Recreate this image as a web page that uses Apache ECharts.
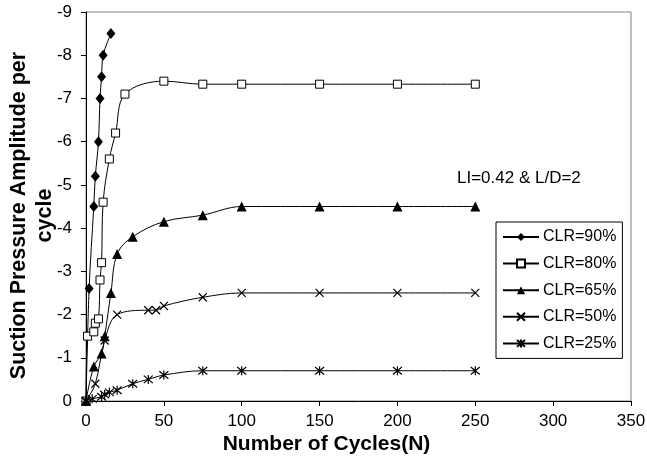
<!DOCTYPE html>
<html>
<head>
<meta charset="utf-8">
<script src="https://cdn.jsdelivr.net/npm/echarts@6/dist/echarts.min.js"></script>
<style>
html,body{margin:0;padding:0;background:#fff;}
#chart{width:647px;height:461px;}
</style>
</head>
<body>
<div id="chart"></div>
<script>
// ---- data ----
const seriesNames = ['CLR=90%', 'CLR=80%', 'CLR=65%', 'CLR=50%', 'CLR=25%'];

const clr90X = [0, 2, 5, 6, 8, 9, 10, 11, 16];
const clr90Y = [0, -2.6, -4.5, -5.2, -6.0, -7.0, -7.5, -8.0, -8.5];

const clr80X = [0, 1, 5, 6, 8, 9, 10, 11, 15, 19, 25, 50, 75, 100, 150, 200, 250];
const clr80Y = [0, -1.5, -1.6, -1.8, -1.9, -2.8, -3.2, -4.6, -5.6, -6.2, -7.1, -7.4, -7.33, -7.33, -7.33, -7.33, -7.33];

const clr65X = [0, 5, 10, 12, 16, 20, 30, 50, 75, 100, 150, 200, 250];
const clr65Y = [0, -0.8, -1.1, -1.5, -2.5, -3.4, -3.8, -4.15, -4.3, -4.5, -4.5, -4.5, -4.5];

const clr50X = [0, 6, 12, 20, 40, 45, 50, 75, 100, 150, 200, 250];
const clr50Y = [0, -0.4, -1.4, -2.0, -2.1, -2.1, -2.2, -2.4, -2.5, -2.5, -2.5, -2.5];

const clr25X = [0, 4, 10, 12, 15, 20, 30, 40, 50, 75, 100, 150, 200, 250];
const clr25Y = [0, -0.05, -0.1, -0.15, -0.2, -0.25, -0.4, -0.5, -0.6, -0.7, -0.7, -0.7, -0.7, -0.7];

const xTicks = [0, 50, 100, 150, 200, 250, 300, 350];
const yTicks = [-9, -8, -7, -6, -5, -4, -3, -2, -1, 0];

const annotationText = 'LI=0.42 & L/D=2';
const xTitle = 'Number of Cycles(N)';
const yTitle = 'Suction Pressure Amplitude per\ncycle';

// ---- build ----
function pairs(xs, ys) { return xs.map((x, i) => [x, ys[i]]); }

const FONT = "'Liberation Sans', Arial, sans-serif";
const xMarkPath = 'path://M0,0L10,10M10,0L0,10';
const starPath = 'path://M0,0L10,10M10,0L0,10M5,-1L5,11';

const markerDefs = [
  { symbol: 'diamond', size: [9, 11], item: { color: '#000', borderColor: '#000', borderWidth: 0 } },
  { symbol: 'rect', size: 8, item: { color: '#fff', borderColor: '#000', borderWidth: 1 } },
  { symbol: 'triangle', size: 10, item: { color: '#000', borderColor: '#000', borderWidth: 0 } },
  { symbol: xMarkPath, size: 8, item: { color: '#000', borderColor: '#000', borderWidth: 1.2 } },
  { symbol: starPath, size: 9, item: { color: '#000', borderColor: '#000', borderWidth: 1.2 } }
];
const dataSets = [
  pairs(clr90X, clr90Y),
  pairs(clr80X, clr80Y),
  pairs(clr65X, clr65Y),
  pairs(clr50X, clr50Y),
  pairs(clr25X, clr25Y)
];

const series = seriesNames.map((name, i) => ({
  name: name,
  type: 'line',
  data: dataSets[i],
  smooth: 0.35,
  symbol: markerDefs[i].symbol,
  symbolSize: markerDefs[i].size,
  showSymbol: true,
  lineStyle: { color: '#000', width: 1 },
  itemStyle: markerDefs[i].item,
  emphasis: { disabled: true },
  z: 2 + i
}));

const chart = echarts.init(document.getElementById('chart'), null, { renderer: 'canvas' });
chart.setOption({
  animation: false,
  backgroundColor: '#fff',
  textStyle: { fontFamily: FONT },
  grid: {
    left: 86, right: 16, top: 12, bottom: 60,
    containLabel: false,
    outerBoundsMode: 'none',
    show: true, borderColor: '#808080', borderWidth: 1, backgroundColor: '#fff'
  },
  xAxis: {
    type: 'value',
    min: xTicks[0], max: xTicks[xTicks.length - 1], interval: 50,
    name: xTitle,
    nameLocation: 'middle',
    nameGap: 33,
    nameMoveOverlap: false,
    nameTextStyle: { fontFamily: FONT, fontWeight: 'bold', fontSize: 21, color: '#000', padding: [0, 64, 0, 0] },
    axisLine: { show: true, onZero: false, lineStyle: { color: '#000', width: 1 } },
    axisTick: { show: true, inside: false, length: 5, lineStyle: { color: '#000' } },
    axisLabel: { fontFamily: FONT, fontSize: 17, color: '#000', margin: 12 },
    splitLine: { show: false }
  },
  yAxis: {
    type: 'value',
    inverse: true,
    min: yTicks[0], max: yTicks[yTicks.length - 1], interval: 1,
    name: yTitle,
    nameLocation: 'middle',
    nameRotate: 90,
    nameGap: 28,
    nameMoveOverlap: false,
    nameTextStyle: { fontFamily: FONT, fontWeight: 'bold', fontSize: 21.5, lineHeight: 26, color: '#000', align: 'center', padding: [0, 18, 0, 0] },
    axisLine: { show: true, onZero: false, lineStyle: { color: '#000', width: 1 } },
    axisTick: { show: true, inside: false, length: 5, lineStyle: { color: '#000' } },
    axisLabel: { fontFamily: FONT, fontSize: 17, color: '#000', margin: 14 },
    splitLine: { show: false }
  },
  legend: {
    data: seriesNames,
    orient: 'vertical',
    left: 496, top: 222,
    padding: [6, 6, 6, 6],
    itemWidth: 36, itemHeight: 10, itemGap: 8.6,
    borderColor: '#000', borderWidth: 1,
    backgroundColor: '#fff',
    selectedMode: false,
    textStyle: { fontFamily: FONT, fontSize: 16, lineHeight: 18, color: '#000', padding: [0, 0, 0, -1] }
  },
  graphic: [{
    type: 'text',
    left: 457, top: 170,
    style: { text: annotationText, fontFamily: FONT, fontSize: 17, fill: '#000' },
    silent: true
  }],
  series: series
});
</script>
</body>
</html>
